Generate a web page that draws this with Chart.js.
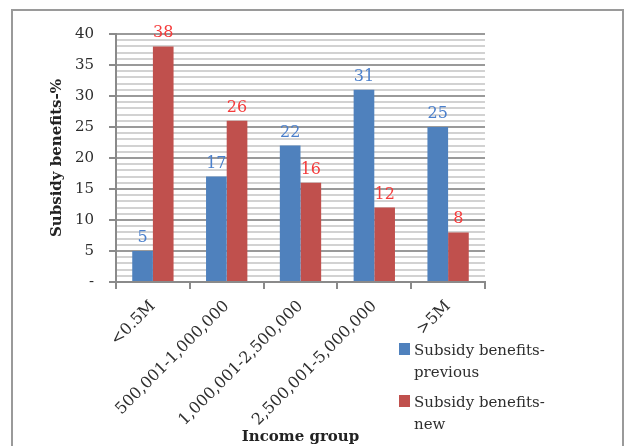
<!DOCTYPE html>
<html>
<head>
<meta charset="utf-8">
<script src="https://cdn.jsdelivr.net/npm/chart.js@4/dist/chart.umd.min.js"></script>
<style>
  html, body { margin: 0; padding: 0; background: #fff; }
  #wrap { width: 624px; height: 446px; position: relative; }
</style>
</head>
<body>
<div id="wrap"><canvas id="chart" width="624" height="446"></canvas></div>
<script>
// income groups and subsidy shares (%)
const groups = ['<0.5M', '500,001-1,000,000', '1,000,001-2,500,000', '2,500,001-5,000,000', '>5M'];
const previous = [5, 17, 22, 31, 25];
const newShare = [38, 26, 16, 12, 8];
const seriesNames = [['Subsidy benefits-', 'previous'], ['Subsidy benefits-', 'new']];
const yTicks = [0, 5, 10, 15, 20, 25, 30, 35, 40];

const FONT = "'DejaVu Serif', serif";
const BLUE = '#4f81bd', RED = '#c0504d';
const LABEL_COLORS = ['#4a7fcc', '#f53b3b'];

// grey frame round the whole chart
const frame = {
    id: 'frame',
    beforeDraw(chart) {
        const ctx = chart.ctx;
        ctx.save();
        ctx.strokeStyle = '#9a9a9a';
        ctx.lineWidth = 2;
        ctx.strokeRect(12, 10, 611, 450);
        ctx.restore();
    }
};

// value above each bar
const barValues = {
    id: 'barValues',
    afterDatasetsDraw(chart) {
        const ctx = chart.ctx;
        ctx.save();
        ctx.font = '16px ' + FONT;
        ctx.textAlign = 'center';
        ctx.textBaseline = 'alphabetic';
        chart.data.datasets.forEach((ds, i) => {
            ctx.fillStyle = LABEL_COLORS[i];
            chart.getDatasetMeta(i).data.forEach((bar, j) => {
                ctx.fillText(ds.data[j], bar.x, bar.y - 9);
            });
        });
        ctx.restore();
    }
};

// two-line legend under the plot on the right
const sideLegend = {
    id: 'sideLegend',
    afterDraw(chart) {
        const ctx = chart.ctx;
        ctx.save();
        ctx.font = '15px ' + FONT;
        ctx.textBaseline = 'alphabetic';
        chart.data.datasets.forEach((ds, i) => {
            const top = 343 + i * 52;
            ctx.fillStyle = ds.backgroundColor;
            ctx.fillRect(399, top, 11, 12);
            ctx.fillStyle = '#2e2e2e';
            seriesNames[i].forEach((line, k) => {
                ctx.fillText(line, 414, top + 12 + k * 22);
            });
        });
        ctx.restore();
    }
};

new Chart(document.getElementById('chart'), {
    type: 'bar',
    data: {
        labels: groups,
        datasets: [
            { label: 'Subsidy benefits-previous', data: previous, backgroundColor: BLUE },
            { label: 'Subsidy benefits-new', data: newShare, backgroundColor: RED }
        ]
    },
    options: {
        responsive: false,
        animation: false,
        layout: { padding: { top: 34, right: 139, left: 0, bottom: 0 } },
        datasets: { bar: { barPercentage: 1, categoryPercentage: 0.56 } },
        plugins: { legend: { display: false }, tooltip: { enabled: false } },
        scales: {
            x: {
                afterFit(scale) { scale.height = 164; },
                grid: { drawOnChartArea: false, offset: true, tickLength: 7, color: '#8a8a8a', lineWidth: 2 },
                border: { color: '#8a8a8a', width: 2 },
                ticks: {
                    color: '#2e2e2e', font: { family: FONT, size: 16 },
                    minRotation: 45, maxRotation: 45, autoSkip: false, padding: 8
                },
                title: {
                    display: true, text: 'Income group', color: '#222',
                    font: { family: FONT, size: 15, weight: 'bold' },
                    padding: { top: 0, bottom: 0 }
                }
            },
            y: {
                min: 0, max: 40,
                afterFit(scale) { scale.width = 116; },
                afterBuildTicks(scale) {
                    scale.ticks = [];
                    for (let v = 0; v <= 40; v++) scale.ticks.push({ value: v, major: yTicks.includes(v) });
                },
                grid: {
                    tickLength: 7,
                    color: c => (c.tick && yTicks.includes(c.tick.value)) ? '#9a9a9a' : '#d2d2d2',
                    tickColor: c => (c.tick && yTicks.includes(c.tick.value)) ? '#8a8a8a' : 'rgba(0,0,0,0)',
                    lineWidth: 2
                },
                border: { color: '#8a8a8a', width: 2 },
                ticks: {
                    autoSkip: false, color: '#2e2e2e', padding: 15,
                    font: { family: FONT, size: 15 },
                    callback: v => v === 0 ? '-' : (yTicks.includes(v) ? v : '')
                },
                title: {
                    display: true, text: 'Subsidy benefits-%', color: '#222',
                    font: { family: FONT, size: 15, weight: 'bold' },
                    padding: { top: 48, bottom: 0 }
                }
            }
        }
    },
    plugins: [frame, barValues, sideLegend]
});
</script>
</body>
</html>
